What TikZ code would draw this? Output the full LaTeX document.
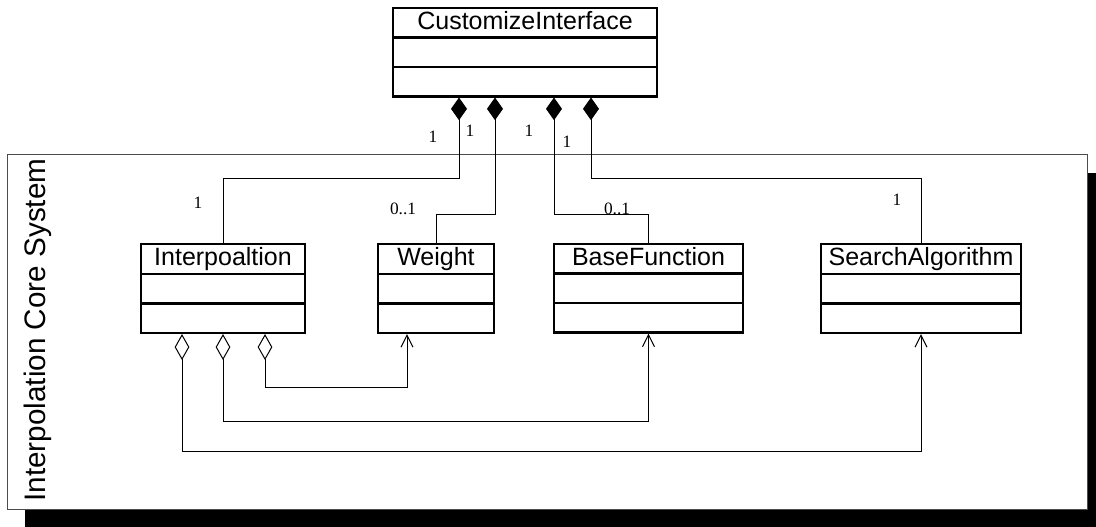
\documentclass[tikz,border=0pt]{standalone}
\usepackage{fontspec}
\setmainfont{Liberation Serif}
\newfontfamily\arialfont{Liberation Sans}
\usetikzlibrary{arrows.meta,shapes.multipart,shadows,calc}
\tikzset{
	umlclass/.style={rectangle split, rectangle split parts=3, draw, line width=1.6pt, minimum width=#1, anchor=north,
		inner xsep=2pt, inner ysep=1.5pt, rectangle split empty part height=14pt, rectangle split empty part depth=3.5pt,
		font=\arialfont\fontsize{18.75}{20}\selectfont},
	pkg/.style={draw=black!70, line width=0.75pt, fill=white, minimum width=810pt, minimum height=265.5pt,
		drop shadow={shadow xshift=13.5pt, shadow yshift=-13.5pt, fill=black, opacity=1}},
	comp/.style={line width=0.75pt, {Diamond[length=17pt,width=12pt]}-},
	aggr/.style={line width=0.75pt, {Diamond[open,length=19.5pt,width=11pt]}-{Straight Barb[length=9pt,width=9pt]}},
	mult/.style={inner sep=0pt, font=\fontsize{13}{13}\selectfont},
}
\newcommand{\cname}[1]{\rule[-3.5pt]{0pt}{17.5pt}#1}
\begin{document}
	\begin{tikzpicture}[x=0.75pt, y=-0.75pt]
		\useasboundingbox (0,0) rectangle (1096,527);
		\node[pkg] (sys) at (547,332) {};
		\node[rotate=90, font=\arialfont\fontsize{22.25}{24}\selectfont] (title) at (38,330) {Interpolation Core System};
		\node[umlclass=198pt] (CI) at (525,7) {\cname{CustomizeInterface}};
		\node[umlclass=123pt] (Ip) at (223,243) {\cname{Interpoaltion}};
		\node[umlclass=87pt] (Wt) at (436,243) {\cname{Weight}};
		\node[umlclass=141.75pt] (BF) at (648.5,243) {\cname{BaseFunction}};
		\node[umlclass=150pt] (SA) at (921,243) {\cname{SearchAlgorithm}};
		\draw[comp] ($(CI.south)+(-66,0)$) -- ++(0,81) -| (Ip.north);
		\draw[comp] ($(CI.south)+(-30,0)$) -- ++(0,117) -| (Wt.north);
		\draw[comp] ($(CI.south)+(29,0)$) -- ++(0,117) -| (BF.north);
		\draw[comp] ($(CI.south)+(66,0)$) -- ++(0,81) -| (SA.north);
		\draw[aggr] ($(Ip.south)+(42,0)$) -- ++(0,53) -| ($(Wt.south)+(-29,0)$);
		\draw[aggr] (Ip.south) -- ++(0,87) -| (BF.south);
		\draw[aggr] ($(Ip.south)+(-41,0)$) -- ++(0,117) -| (SA.south);
		\node[mult] (m1) at (433,137) {1};
		\node[mult] (m2) at (470,131) {1};
		\node[mult] (m3) at (529,131) {1};
		\node[mult] (m4) at (567,142) {1};
		\node[mult] (m5) at (198,203) {1};
		\node[mult] (m6) at (403,209) {0..1};
		\node[mult] (m7) at (617,209) {0..1};
		\node[mult] (m8) at (897,200) {1};
	\end{tikzpicture}
\end{document}
